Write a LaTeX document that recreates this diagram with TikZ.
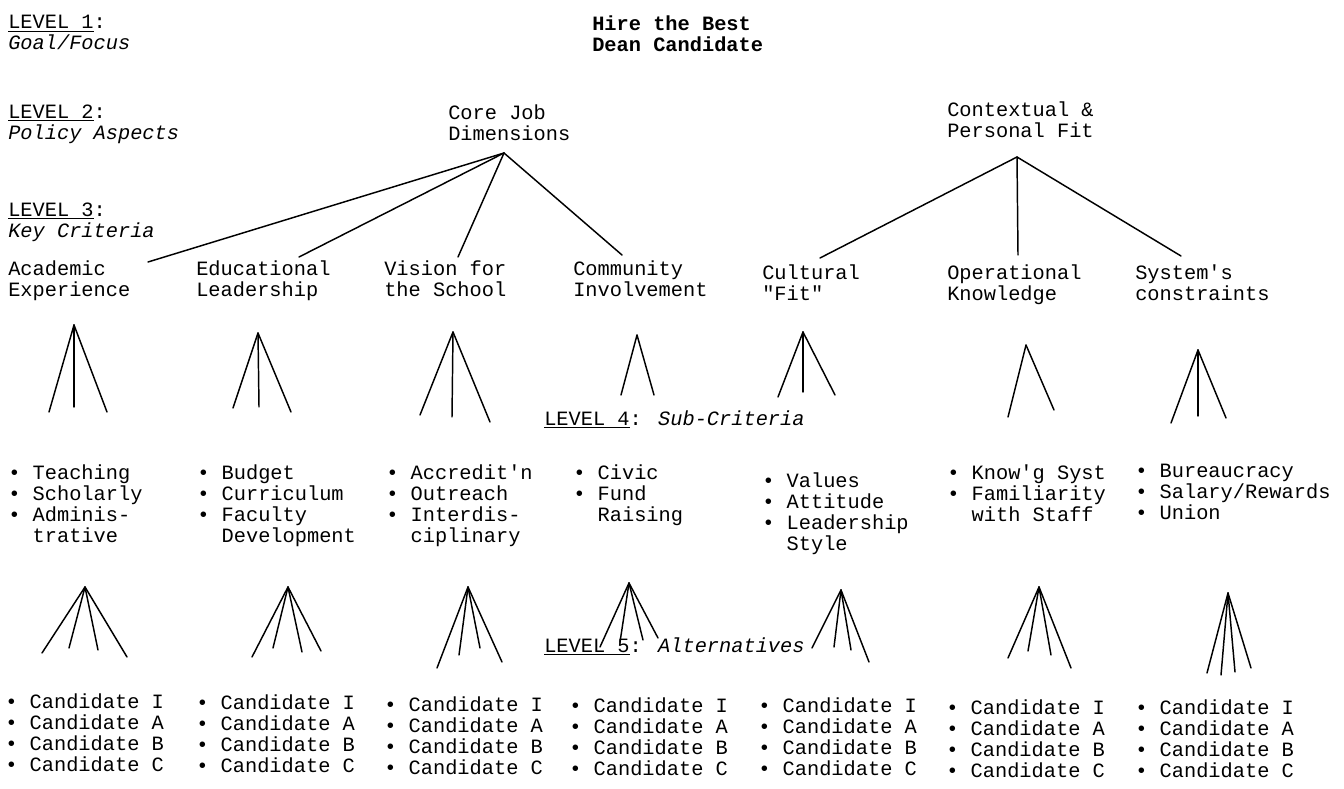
\documentclass[tikz,border=0pt]{standalone}
\usepackage{fontspec}
\newfontfamily\typer{Liberation Mono}
\newcommand{\lvfont}{\typer\fontsize{15.25}{15.75}\selectfont}
\newcommand{\ind}{\hspace*{1.2em}}

\begin{document}
\begin{tikzpicture}[
    x=0.75pt, y=-0.75pt,
    txt/.style={font=\lvfont, align=left, anchor=north west, inner sep=0pt,
      yshift=11.025pt, execute at begin node=\strut},
    branch/.style={line width=1.1pt, line cap=round}
  ]
    \path[fill=white, use as bounding box] (0,0) rectangle (1344,788);

    % level labels
    \node[txt] (lv1) at (8,30) {\underline{LEVEL 1}:\\\textit{Goal/Focus}};
    \node[txt] (lv2) at (8,119) {\underline{LEVEL 2}:\\\textit{Policy Aspects}};
    \node[txt] (lv3) at (8,217) {\underline{LEVEL 3}:\\\textit{Key Criteria}};
    \node[txt] (lv4) at (544,425) {\underline{LEVEL 4}: \textit{Sub-Criteria}};
    \node[txt] (lv5) at (544,652) {\underline{LEVEL 5}: \textit{Alternatives}};

    % goal and policy aspects
    \node[txt, font=\lvfont\bfseries] (goal) at (592,30) {Hire the Best\\Dean Candidate};
    \node[txt] (core) at (448,119) {Core Job\\Dimensions};
    \node[txt] (ctx) at (947,116) {Contextual \&\\Personal Fit};

    % key criteria
    \node[txt] (acad) at (8,275) {Academic\\Experience};
    \node[txt] (educ) at (196,275) {Educational\\Leadership};
    \node[txt] (vis) at (384,275) {Vision for\\the School};
    \node[txt] (comm) at (573,275) {Community\\Involvement};
    \node[txt] (cult) at (762,279) {Cultural\\"Fit"};
    \node[txt] (oper) at (947,279) {Operational\\Knowledge};
    \node[txt] (syst) at (1135,279) {System's\\constraints};

    \coordinate (coreTop) at (504,153);
    \coordinate (ctxTop) at (1017,157);
    \coordinate (acadIn) at (148,262);
    \coordinate (educIn) at (299,257);
    \coordinate (visIn) at (458,257);
    \coordinate (commIn) at (622,255);
    \coordinate (cultIn) at (820,258);
    \coordinate (operIn) at (1018,255);
    \coordinate (systIn) at (1181,256);
    \foreach \t in {acadIn,educIn,visIn,commIn}
      \draw[branch] (coreTop) -- (\t);
    \foreach \t in {cultIn,operIn,systIn}
      \draw[branch] (ctxTop) -- (\t);

    % sub-criteria
    \node[txt] (acadSub) at (8,479) {• Teaching\\• Scholarly\\• Adminis-\\\ind trative};
    \node[txt] (educSub) at (197,479) {• Budget\\• Curriculum\\• Faculty\\\ind Development};
    \node[txt] (visSub) at (386,479) {• Accredit'n\\• Outreach\\• Interdis-\\\ind ciplinary};
    \node[txt] (commSub) at (573,479) {• Civic\\• Fund\\\ind Raising};
    \node[txt] (cultSub) at (762,487) {• Values\\• Attitude\\• Leadership\\\ind Style};
    \node[txt] (operSub) at (947,479) {• Know'g Syst\\• Familiarity\\\ind with Staff};
    \node[txt] (systSub) at (1135,479) {• Bureaucracy\\• Salary/Rewards\\• Union};

    \foreach \ax/\ay/\legs [count=\i] in {
        74/325/{49/412,74/407,107/412},
        258/333/{233/408,259/407,291/412},
        453/332/{420/415,452/417,490/422},
        637/335/{621/395,654/395},
        803/332/{778/397,803/392,835/395},
        1026/345/{1008/417,1054/410},
        1198/350/{1171/423,1198/416,1226/418}} {
      \coordinate (sub\i) at (\ax,\ay);
      \foreach \lx/\ly [count=\j] in \legs {
        \coordinate (sub\i-\j) at (\lx,\ly);
        \draw[branch] (sub\i) -- (sub\i-\j);
      }
    }

    % alternatives
    \foreach \ax/\ay/\legs [count=\i] in {
        85/587/{42/653,69/648,98/650,127/657},
        288/587/{252/657,273/648,302/652,321/651},
        468/587/{437/668,459/655,480/648,502/662},
        629/583/{600/647,620/642,643/640,658/638},
        841/590/{812/648,834/647,851/650,869/662},
        1039/587/{1008/658,1028/651,1051/655,1071/668},
        1228/593/{1207/673,1221/675,1235/672,1251/668}} {
      \coordinate (alt\i) at (\ax,\ay);
      \foreach \lx/\ly [count=\j] in \legs {
        \coordinate (alt\i-\j) at (\lx,\ly);
        \draw[branch] (alt\i) -- (alt\i-\j);
      }
    }

    \foreach \cx/\cy [count=\i] in {5/708,196/709,384/711,569/712,758/712,946/714,1135/714}
      \node[txt] (cand\i) at (\cx,\cy) {• Candidate I\\• Candidate A\\• Candidate B\\• Candidate C};
  \end{tikzpicture}
\end{document}
